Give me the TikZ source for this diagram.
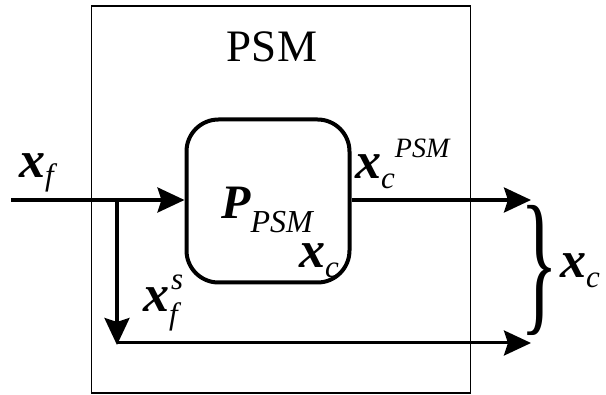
\documentclass[tikz,border=0pt]{standalone}
\usepackage{fontspec}
\usepackage{graphicx}
\setmainfont{Liberation Serif}
\usetikzlibrary{arrows.meta}
\newcommand\bxi{\fontsize{52}{52}\selectfont\bfseries\itshape}
\newcommand\smi{\fontsize{31}{31}\selectfont\itshape}
\newcommand\ssmi{\fontsize{28}{28}\selectfont\itshape}
\begin{document}
\begin{tikzpicture}[x=1pt,y=-1pt,
  arr/.style={line width=3.5pt,-{Stealth[length=27pt,width=25pt,inset=4pt]}},
  lab/.style={inner sep=0pt,anchor=base west},
]
\useasboundingbox (0,0) rectangle (606,395);
% outer box
\node[draw,line width=1.4pt,minimum width=379pt,minimum height=387pt,inner sep=0pt] (outer) at (281,199.5) {};
\node[inner sep=0pt,font=\fontsize{45}{45}\selectfont] (title) at (272,47) {PSM};
% plant
\node[draw,line width=4pt,rounded corners=32pt,minimum width=163pt,minimum height=163pt,inner sep=0pt] (plant) at (268,201) {};
% coordinates
\coordinate (in) at (11,200);
\coordinate (split) at (117,200);
\coordinate (corner) at (117,345);
\coordinate (out1) at (531,200);
\coordinate (out2) at (531,343);
% connectors
\draw[arr] (in) -- (in -| plant.west);
\draw[arr] (split) -- (corner);
\draw[arr,line width=3pt] (117,343) -- (out2);
\draw[arr] (plant.east |- out1) -- (out1);
% labels
\node[lab] (xf) at (19,178) {{\bxi x}\raisebox{-8pt}{\smi f}};
\node[lab] (xcpsm) at (355,179) {{\bxi x}\raisebox{-10pt}{\smi c}\raisebox{21pt}{\ssmi PSM}};
\node[lab] (pp) at (221,219) {{\fontsize{48}{48}\selectfont\bfseries\itshape P}\raisebox{-14pt}{\fontsize{32}{32}\selectfont\itshape PSM}};
\node[lab] (xc) at (299,268) {{\bxi x}\raisebox{-10pt}{\smi c}};
\node[lab] (xfs) at (143,312) {{\bxi x}\rlap{\raisebox{-13pt}{\smi f}}\kern2pt\raisebox{22pt}{\smi s}};
\node[inner sep=0pt,anchor=west] (brace) at (520,270) {\resizebox*{38pt}{130pt}{\}}};
\node[lab] (xcout) at (560,278) {{\bxi x}\raisebox{-10pt}{\smi c}};
\end{tikzpicture}
\end{document}
